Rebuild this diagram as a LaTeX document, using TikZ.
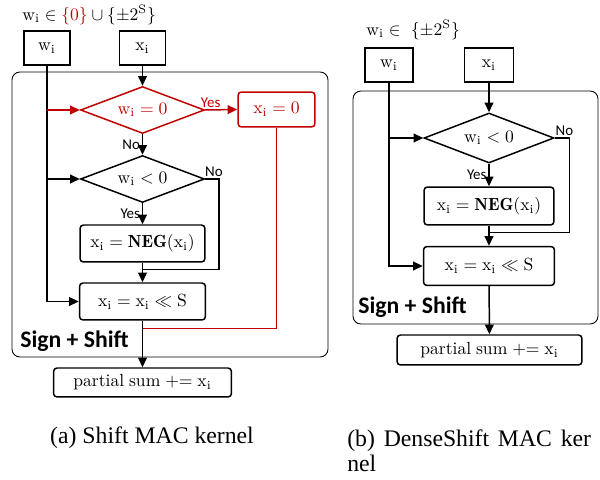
\documentclass[tikz,border=0pt]{standalone}
\usepackage{fontspec}
\newfontfamily\lblfont{Carlito}
\newfontfamily\capfont{Liberation Serif}
\usetikzlibrary{shapes.geometric, arrows.meta, calc}
\definecolor{shiftred}{RGB}{192,0,0}
\newcommand{\vw}{\mathrm{w_i}}
\newcommand{\vx}{\mathrm{x_i}}
\tikzset{
  inbox/.style={rectangle, draw, line width=0.85pt, minimum width=0.92cm, minimum height=0.68cm, inner sep=0pt},
  procbox/.style={rectangle, draw, line width=0.85pt, rounded corners=2pt, minimum height=0.74cm, inner sep=0pt},
  decide/.style={diamond, draw, line width=0.85pt, aspect=2.6, inner sep=0pt, minimum width=2.48cm, minimum height=0.94cm},
  flow/.style={line width=0.85pt, -{Triangle[length=5.5pt,width=5pt]}},
  wire/.style={line width=0.85pt},
  answer/.style={font=\lblfont\fontsize{8.5}{10}\selectfont, inner sep=1pt},
  kernel/.style={draw, line width=0.5pt, rounded corners=4.5pt},
  group/.style={font=\lblfont\bfseries\fontsize{13.5}{15}\selectfont, anchor=west, inner sep=0pt},
  caption/.style={font=\capfont\fontsize{13.5}{14.25}\selectfont, inner sep=0pt},
}
\begin{document}
\begin{tikzpicture}[x=0.02cm, y=-0.02cm]
    \useasboundingbox (0,0) rectangle (600,480);
    %(a) shift kernel
    \draw[kernel] (12,72) rectangle (328,357);
    \node[anchor=west, inner sep=0pt] (ta) at (22,15) {$\vw \in {\color{shiftred}\{0\}} \cup \{\pm 2^{\mathrm{S}}\}$};
    \node[inbox] (wa) at (47,48) {$\vw$};
    \node[inbox] (xa) at (142.5,48) {$\vx$};
    \node[decide, draw=shiftred, text=shiftred] (za) at (142.5,110) {$\vw = 0$};
    \node[procbox, draw=shiftred, text=shiftred, minimum width=1.54cm, minimum height=0.7cm] (xz) at (276.5,109.5) {$\vx = 0$};
    \node[decide] (na) at (142.5,179) {$\vw < 0$};
    \node[procbox, minimum width=2.5cm] (ga) at (142.5,243.5) {$\vx = \mathbf{NEG}(\vx)$};
    \node[procbox, minimum width=2.52cm] (sa) at (142.5,301.5) {$\vx = \vx \ll \mathrm{S}$};
    \node[procbox, minimum width=3.56cm, minimum height=0.58cm] (pa) at (142.5,382.5) {$\mathrm{partial\;sum} \mathrel{+}= \vx$};
    \coordinate (ja) at ($(ga.south)!0.35!(sa.north)$);
    \coordinate (ka) at ($(sa.south)!0.17!(pa.north)$);
    \draw[flow] (xa) -- (za);
    \draw[flow] (wa.south) |- (sa.west);
    \draw[flow, shiftred] (wa.south |- za.west) -- (za.west);
    \draw[flow] (wa.south |- na.west) -- (na.west);
    \draw[flow, shiftred] (za.east) -- node[answer, above, pos=0.17]{Yes} (xz.west);
    \draw[flow] (za) -- node[answer, left]{No} (na);
    \draw[flow] (na) -- node[answer, left]{Yes} (ga);
    \draw[wire] (na.east) -- ++(14,0) node[answer, above, xshift=-3pt]{No} |- (ja);
    \draw[flow] (ga) -- (sa);
    \draw[wire, shiftred] (xz.south) |- (ka);
    \draw[flow] (sa) -- (pa);
    \node[group] (sga) at (20,341) {Sign + Shift};
    \node[caption] (capa) at (152,438) {(a) Shift MAC kernel};
    %(b) denseshift kernel
    \draw[kernel] (353,91) rectangle (598,324);
    \node[anchor=west, inner sep=0pt] (tb) at (366,30) {$\vw \in\ \{\pm 2^{\mathrm{S}}\}$};
    \node[inbox, minimum width=0.96cm] (wb) at (389,65) {$\vw$};
    \node[inbox, minimum width=0.98cm] (xb) at (489,65) {$\vx$};
    \node[decide, minimum width=2.6cm, minimum height=1cm] (nb) at (489,138) {$\vw < 0$};
    \node[procbox, minimum width=2.6cm, minimum height=0.76cm] (gb) at (489,206) {$\vx = \mathbf{NEG}(\vx)$};
    \node[procbox, minimum width=2.62cm, minimum height=0.78cm] (sb) at (489,266) {$\vx = \vx \ll \mathrm{S}$};
    \node[procbox, minimum width=3.7cm, minimum height=0.6cm] (pb) at (489.5,350) {$\mathrm{partial\;sum} \mathrel{+}= \vx$};
    \coordinate (jb) at ($(gb.south)!0.33!(sb.north)$);
    \draw[flow] (xb) -- (nb);
    \draw[flow] (wb.south) |- (sb.west);
    \draw[flow] (wb.south |- nb.west) -- (nb.west);
    \draw[flow] (nb) -- node[answer, left]{Yes} (gb);
    \draw[wire] (nb.east) -- ++(15,0) node[answer, above, xshift=-3pt]{No} |- (jb);
    \draw[flow] (gb) -- (sb);
    \draw[flow] (sb) -- (pb);
    \node[group] (sgb) at (358,307) {Sign + Shift};
    \node[caption, anchor=west, align=left] (capb) at (347,450.5) {(b)\hspace{5pt}DenseShift\hspace{5pt}MAC\hspace{5pt}ker\\nel};
\end{tikzpicture}
\end{document}
